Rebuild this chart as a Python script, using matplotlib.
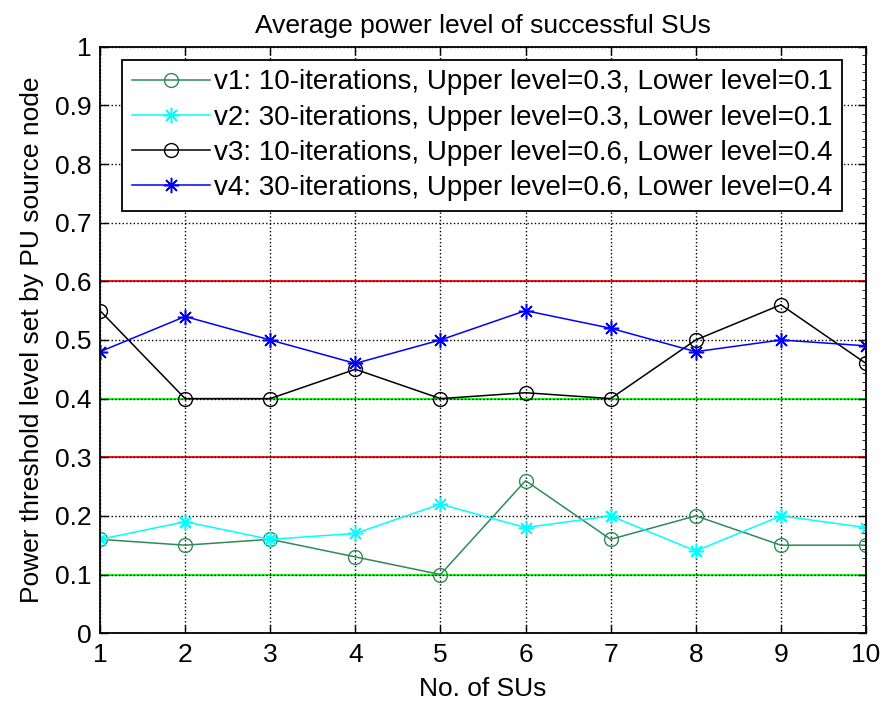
import numpy as np
import matplotlib.pyplot as plt
from matplotlib.ticker import AutoMinorLocator

plt.rcParams['font.family'] = ['Liberation Sans', 'DejaVu Sans']

sus = [1, 2, 3, 4, 5, 6, 7, 8, 9, 10]
v1 = [0.16, 0.15, 0.16, 0.13, 0.10, 0.26, 0.16, 0.20, 0.15, 0.15]
v2 = [0.16, 0.19, 0.16, 0.17, 0.22, 0.18, 0.20, 0.14, 0.20, 0.18]
v3 = [0.55, 0.40, 0.40, 0.45, 0.40, 0.41, 0.40, 0.50, 0.56, 0.46]
v4 = [0.48, 0.54, 0.50, 0.46, 0.50, 0.55, 0.52, 0.48, 0.50, 0.49]
upper_levels = [0.6, 0.3]
lower_levels = [0.4, 0.1]
labels = ['v1: 10-iterations, Upper level=0.3, Lower level=0.1',
          'v2: 30-iterations, Upper level=0.3, Lower level=0.1',
          'v3: 10-iterations, Upper level=0.6, Lower level=0.4',
          'v4: 30-iterations, Upper level=0.6, Lower level=0.4']

fs = 19
star = (8, 2, 0)  # matlab-ish asterisk

fig = plt.figure(figsize=(8.85, 7.09), dpi=100)
ax = fig.add_axes([0.113, 0.107, 0.8655, 0.827])

for lv in upper_levels:
    ax.axhline(lv, color='red', lw=1.3, zorder=1)
for lv in lower_levels:
    ax.axhline(lv, color='#00ff00', lw=1.3, zorder=1)

ax.plot(sus, v1, '-', marker='o', color='#2e8b57', mfc='none', ms=10, lw=1.1, label=labels[0])
ax.plot(sus, v2, '-', marker=star, color='cyan', ms=11, mew=1.1, lw=1.1, label=labels[1])
ax.plot(sus, v3, '-', marker='o', color='black', mfc='none', ms=10, lw=1.1, label=labels[2])
ax.plot(sus, v4, '-', marker=star, color='blue', ms=11, mew=1.1, lw=1.1, label=labels[3])

ax.set_xlim(1, 10)
ax.set_ylim(0, 1)
ax.set_xticks(sus)
ax.set_yticks(np.arange(0, 1.01, 0.1))
ax.set_yticklabels(['0', '0.1', '0.2', '0.3', '0.4', '0.5', '0.6', '0.7', '0.8', '0.9', '1'])
ax.tick_params(direction='in', labelsize=fs, top=True, right=True, length=6, width=1)
ax.tick_params(axis='y', pad=6)
ax.tick_params(axis='x', pad=7)
ax.yaxis.set_minor_locator(AutoMinorLocator(7))
ax.tick_params(axis='y', which='minor', left=False, right=True, direction='in', length=3)
ax.grid(True, which='major', linestyle=':', color='black', lw=1)
for s in ax.spines.values():
    s.set_linewidth(1.3)

ax.set_title('Average power level of successful SUs', fontsize=fs, pad=10)
ax.set_xlabel('No. of SUs', fontsize=fs, labelpad=7)
ax.set_ylabel('Power threshold level set by PU source node', fontsize=fs, labelpad=8)

leg = ax.legend(loc='upper left', bbox_to_anchor=(0.029, 0.978), borderaxespad=0,
                fontsize=20, frameon=True, fancybox=False, edgecolor='black',
                handlelength=2.8, handletextpad=0.15, labelspacing=0.33,
                borderpad=0.35, framealpha=1)
leg.get_frame().set_linewidth(1.3)

fig.savefig('out.png', dpi=100)
